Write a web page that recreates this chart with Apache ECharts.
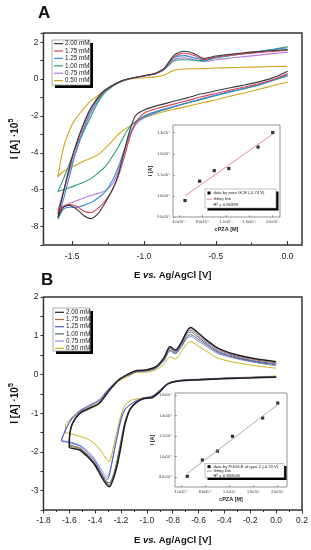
<!DOCTYPE html>
<html><head><meta charset="utf-8">
<script src="https://cdn.jsdelivr.net/npm/echarts@6/dist/echarts.min.js"></script>
<style>html,body{margin:0;padding:0;background:#fff}#c{width:311px;height:550px}</style>
</head><body><div id="c"></div>
<script>
const FONT = 'Liberation Sans, Arial, sans-serif';
const concLabels = ['2.00 mM','1.75 mM','1.25 mM','1.00 mM','0.75 mM','0.50 mM'];
const colorsA = ['#3a3a3a','#e0405a','#3a8cd6','#2e9e72','#b07fe0','#d4a41e'];
const colorsB = ['#1e1e28','#a86a3c','#4c5ccc','#4e6e56','#8c8ce8','#c6b41c'];

// Panel A: upper (positive-current) branch, right to left
const aUpE   = [0.0,-0.1,-0.2,-0.3,-0.4,-0.5,-0.58,-0.65,-0.72,-0.79,-0.86,-0.92,-1.0,-1.08,-1.15,-1.22,-1.28,-1.33,-1.38,-1.43,-1.48,-1.52,-1.56,-1.6];
const aUp200 = [1.6,1.55,1.49,1.43,1.35,1.25,1.12,1.38,1.51,1.3,0.58,0.32,0.18,0.06,-0.08,-0.35,-0.65,-1.1,-1.7,-2.6,-3.7,-4.8,-6.1,-7.5];
const aUp175 = [1.55,1.5,1.44,1.38,1.3,1.2,1.06,1.28,1.4,1.22,0.56,0.31,0.17,0.06,-0.08,-0.35,-0.65,-1.1,-1.75,-2.7,-3.8,-4.9,-6.1,-7.3];
const aUp125 = [1.7,1.6,1.5,1.4,1.3,1.18,1.04,1.15,1.27,1.15,0.55,0.3,0.17,0.06,-0.08,-0.36,-0.7,-1.2,-1.9,-2.9,-4.1,-5.3,-6.5,-7.6];
const aUp100 = [1.75,1.62,1.5,1.38,1.27,1.14,1.0,1.02,1.05,1.0,0.52,0.3,0.17,0.06,-0.1,-0.4,-0.8,-1.4,-2.2,-3.0,-3.8,-4.6,-5.4,-6.1];
const aUp075 = [1.45,1.38,1.3,1.22,1.14,1.05,0.95,1.05,1.15,1.05,0.5,0.28,0.16,0.06,-0.1,-0.38,-0.75,-1.3,-2.0,-3.0,-4.1,-5.0,-6.1,-7.1];
const aUp050 = [0.7,0.68,0.66,0.64,0.62,0.6,0.57,0.56,0.55,0.48,0.22,0.12,0.07,0.02,-0.12,-0.35,-0.65,-0.95,-1.25,-1.7,-2.2,-2.8,-3.7,-5.3];
// Panel A: lower branch, left to right
const aLoE   = [-1.6,-1.56,-1.52,-1.47,-1.42,-1.37,-1.32,-1.27,-1.22,-1.18,-1.14,-1.1,-1.06,-1.0,-0.9,-0.8,-0.7,-0.6,-0.5,-0.4,-0.3,-0.2,-0.1,0.0];
const aLo200 = [-7.5,-6.95,-6.85,-7.05,-7.4,-7.57,-7.3,-6.7,-6.0,-5.2,-4.0,-2.8,-2.0,-1.68,-1.42,-1.22,-1.02,-0.8,-0.63,-0.47,-0.32,-0.15,0.08,0.43];
const aLo175 = [-7.3,-6.9,-6.8,-6.9,-7.15,-7.25,-7.0,-6.6,-6.0,-5.3,-4.3,-3.2,-2.4,-1.85,-1.57,-1.37,-1.17,-0.96,-0.78,-0.6,-0.43,-0.25,-0.02,0.3];
const aLo125 = [-7.6,-7.05,-6.95,-6.95,-6.85,-6.7,-6.45,-6.1,-5.5,-4.8,-3.9,-3.0,-2.4,-2.0,-1.72,-1.5,-1.28,-1.07,-0.87,-0.68,-0.5,-0.3,-0.05,0.25];
const aLo100 = [-6.1,-6.0,-5.9,-5.75,-5.6,-5.4,-5.1,-4.75,-4.2,-3.7,-3.1,-2.6,-2.3,-2.05,-1.75,-1.52,-1.3,-1.1,-0.9,-0.7,-0.52,-0.32,-0.07,0.2];
const aLo075 = [-7.1,-6.9,-6.75,-6.6,-6.45,-6.32,-6.2,-6.05,-5.7,-5.0,-4.0,-3.1,-2.5,-2.1,-1.78,-1.53,-1.3,-1.08,-0.88,-0.68,-0.5,-0.3,-0.05,0.15];
const aLo050 = [-5.3,-5.0,-4.85,-4.65,-4.45,-4.3,-4.1,-3.75,-3.35,-3.0,-2.75,-2.55,-2.35,-2.1,-1.85,-1.65,-1.48,-1.3,-1.12,-0.93,-0.75,-0.55,-0.35,-0.16];

// Panel B: upper branch, right to left
const bUpE   = [0.0,-0.15,-0.3,-0.45,-0.55,-0.62,-0.66,-0.69,-0.73,-0.78,-0.82,-0.87,-0.93,-1.0,-1.08,-1.15,-1.22,-1.3,-1.37,-1.45,-1.52,-1.58,-1.6,-1.63,-1.66];
const bUp200 = [0.33,0.4,0.5,0.68,0.92,1.12,1.21,1.12,0.85,0.63,0.72,0.42,0.2,0.12,0.1,0.0,-0.15,-0.45,-0.75,-0.88,-1.0,-1.3,-1.75,null,null];
const bUp175 = [0.3,0.37,0.47,0.64,0.87,1.06,1.15,1.07,0.82,0.6,0.69,0.4,0.19,0.11,0.09,-0.01,-0.16,-0.46,-0.75,-0.88,-1.0,-1.3,-1.7,null,null];
const bUp125 = [0.27,0.34,0.44,0.6,0.83,1.01,1.1,1.03,0.8,0.58,0.67,0.38,0.18,0.1,0.08,-0.02,-0.14,-0.4,-0.68,-0.82,-0.95,-1.15,-1.25,-1.45,-1.72];
const bUp100 = [0.25,0.32,0.42,0.57,0.79,0.95,1.03,0.97,0.75,0.55,0.63,0.36,0.17,0.1,0.08,-0.02,-0.16,-0.46,-0.76,-0.9,-1.02,-1.3,-1.7,null,null];
const bUp075 = [0.22,0.3,0.4,0.54,0.75,0.9,0.98,0.93,0.72,0.53,0.6,0.34,0.16,0.09,0.07,-0.03,-0.13,-0.38,-0.65,-0.8,-0.93,-1.12,-1.22,-1.42,-1.7];
const bUp050 = [0.16,0.22,0.3,0.42,0.62,0.77,0.85,0.8,0.62,0.4,0.46,0.26,0.12,0.06,0.05,-0.06,-0.18,-0.42,-0.72,-0.85,-0.97,-1.1,-1.18,-1.3,null];
// Panel B: lower branch, left to right
const bLoE   = [-1.66,-1.63,-1.6,-1.52,-1.45,-1.4,-1.35,-1.31,-1.29,-1.26,-1.23,-1.2,-1.17,-1.13,-1.08,-1.02,-0.96,-0.9,-0.84,-0.75,-0.6,-0.4,-0.2,0.0];
const bLo200 = [null,null,-1.88,-1.95,-2.15,-2.35,-2.65,-2.85,-2.9,-2.7,-2.35,-1.85,-1.3,-0.9,-0.72,-0.62,-0.6,-0.45,-0.25,-0.17,-0.14,-0.11,-0.09,-0.07];
const bLo175 = [null,null,-1.83,-1.92,-2.12,-2.32,-2.6,-2.8,-2.85,-2.65,-2.3,-1.8,-1.27,-0.9,-0.7,-0.61,-0.59,-0.44,-0.24,-0.16,-0.13,-0.1,-0.08,-0.06];
const bLo125 = [-1.72,-1.74,-1.76,-1.85,-2.05,-2.25,-2.55,-2.72,-2.6,-2.1,-1.6,-1.15,-0.9,-0.78,-0.68,-0.6,-0.57,-0.42,-0.24,-0.16,-0.13,-0.1,-0.08,-0.06];
const bLo100 = [null,null,-1.8,-1.9,-2.1,-2.3,-2.6,-2.78,-2.8,-2.6,-2.2,-1.7,-1.22,-0.88,-0.7,-0.61,-0.58,-0.43,-0.24,-0.16,-0.13,-0.1,-0.08,-0.06];
const bLo075 = [-1.7,-1.72,-1.74,-1.82,-2.0,-2.2,-2.48,-2.65,-2.55,-2.1,-1.62,-1.18,-0.92,-0.78,-0.67,-0.6,-0.56,-0.41,-0.23,-0.15,-0.12,-0.09,-0.07,-0.05];
const bLo050 = [null,-1.5,-1.52,-1.6,-1.68,-1.8,-2.0,-2.2,-2.25,-1.9,-1.45,-1.05,-0.8,-0.68,-0.63,-0.6,-0.56,-0.4,-0.25,-0.17,-0.14,-0.1,-0.07,-0.04];

// Insets
const insetConc = [0.0005,0.00075,0.001,0.00125,0.00175,0.002];
const insetAI = [0.978e-5,1.070e-5,1.120e-5,1.130e-5,1.232e-5,1.301e-5];
const fitAX = [0.0005,0.002];
const fitAI = [1.0e-5,1.293e-5];
const insetBI = [8.1e-6,9.68e-6,10.55e-6,11.98e-6,13.76e-6,15.21e-6];
const fitBX = [0.0005,0.002];
const fitBI = [8.39e-6,15.05e-6];

// Tick labels
const aXTicks = [-1.5,-1.0,-0.5,0.0];
const aXMinor = [-1.25,-0.75,-0.25];
const insetXTicks = [0.0004,0.0008,0.0012,0.0016,0.002];
const insetXLabels = ['4.0x10⁻⁴','8.0x10⁻⁴','1.2x10⁻³','1.6x10⁻³','2.0x10⁻³'];
const insetAYTicks = [9e-6,1.0e-5,1.1e-5,1.2e-5,1.3e-5];
const insetAYLabels = ['9.0x10⁻⁶','1.0x10⁻⁵','1.1x10⁻⁵','1.2x10⁻⁵','1.3x10⁻⁵'];
const insetBYTicks = [8e-6,1.0e-5,1.2e-5,1.4e-5,1.6e-5];
const insetBYLabels = ['8.0x10⁻⁶','1.0x10⁻⁵','1.2x10⁻⁵','1.4x10⁻⁵','1.6x10⁻⁵'];

const aUp = [aUp200,aUp175,aUp125,aUp100,aUp075,aUp050];
const aLo = [aLo200,aLo175,aLo125,aLo100,aLo075,aLo050];
const bUp = [bUp200,bUp175,bUp125,bUp100,bUp075,bUp050];
const bLo = [bLo200,bLo175,bLo125,bLo100,bLo075,bLo050];

function loop(upE, upI, loE, loI) {
  const d = [];
  upE.forEach((e,i)=>{ if (upI[i] !== null) d.push([e, upI[i]]); });
  loE.forEach((e,i)=>{ if (loI[i] !== null) d.push([e, loI[i]]); });
  return d;
}
function lookup(ticks, labels) {
  return v => { for (let i=0;i<ticks.length;i++){ if (Math.abs(v-ticks[i]) < Math.abs(ticks[i])*1e-6) return labels[i]; } return ''; };
}

const series = [];
for (let k=5;k>=0;k--) {
  series.push({type:'line', name:concLabels[k], xAxisIndex:0, yAxisIndex:0,
    data: loop(aUpE, aUp[k], aLoE, aLo[k]), showSymbol:false, smooth:0.25,
    lineStyle:{width:1.1, color:colorsA[k]}, itemStyle:{color:colorsA[k]}});
}
for (let k=5;k>=0;k--) {
  series.push({type:'line', name:concLabels[k], xAxisIndex:3, yAxisIndex:2,
    data: loop(bUpE, bUp[k], bLoE, bLo[k]), showSymbol:false, smooth:0.25,
    lineStyle:{width:k===0?1.5:1, color:colorsB[k]}, itemStyle:{color:colorsB[k]}});
}
series.push({type:'line', xAxisIndex:2, yAxisIndex:1, data: fitAX.map((x,i)=>[x, fitAI[i]]),
  showSymbol:false, lineStyle:{color:'#e07080', width:0.8}});
series.push({type:'scatter', xAxisIndex:2, yAxisIndex:1, data: insetConc.map((c,i)=>[c, insetAI[i]]),
  symbol:'rect', symbolSize:3.2, itemStyle:{color:'#000'}});
series.push({type:'line', xAxisIndex:4, yAxisIndex:3, data: fitBX.map((x,i)=>[x, fitBI[i]]),
  showSymbol:false, lineStyle:{color:'#a89484', width:0.8}});
series.push({type:'scatter', xAxisIndex:4, yAxisIndex:3, data: insetConc.map((c,i)=>[c, insetBI[i]]),
  symbol:'rect', symbolSize:3.2, itemStyle:{color:'#000'}});

const noLine = {show:false, onZero:false};
const tickLbl = {fontSize:8.5, color:'#222', fontFamily:FONT};
const xTitle = {
  name:'{b|E }{i|vs.}{b| Ag/AgCl [V]}', nameLocation:'middle', nameGap:25,
  nameTextStyle:{rich:{b:{fontSize:9.5,fontWeight:'bold',fontFamily:FONT,color:'#111'},
                       i:{fontSize:9.5,fontWeight:'bold',fontStyle:'italic',fontFamily:FONT,color:'#111'}}}
};
const yTitle = {
  name:'{b|I [A] ·10}{s|5}', nameLocation:'middle', nameGap:14,
  nameTextStyle:{rich:{b:{fontSize:10,fontWeight:'bold',fontFamily:FONT,color:'#111'},
                       s:{fontSize:7,fontWeight:'bold',fontFamily:FONT,color:'#111',padding:[0,0,7,0]}}}
};
const insetLbl = {fontSize:3.6, color:'#333', fontFamily:FONT};
const insetName = {fontSize:5.5, fontWeight:'bold', fontFamily:FONT, color:'#222'};

function legendMain(x, y, w, h, row0, rowH, colors) {
  const els = [
    {type:'rect', shape:{x:x+3, y:y+3, width:w, height:h}, style:{fill:'#000'}},
    {type:'rect', shape:{x:x, y:y, width:w, height:h}, style:{fill:'#fff', stroke:'#999', lineWidth:0.8}}
  ];
  concLabels.forEach((lab,i)=>{
    const ry = row0 + i*rowH;
    els.push({type:'line', shape:{x1:x+2, y1:ry, x2:x+11, y2:ry}, style:{stroke:colors[i], lineWidth:1.2}});
    els.push({type:'text', x:x+13, y:ry, style:{text:lab, font:'6.3px '+FONT, fill:'#222', verticalAlign:'middle'}});
  });
  return els;
}
function legendInset(x, y, w, h, rows, texts, lineColor) {
  const els = [
    {type:'rect', shape:{x:x+2.5, y:y+2.5, width:w, height:h}, style:{fill:'#000'}},
    {type:'rect', shape:{x:x, y:y, width:w, height:h}, style:{fill:'#fff', stroke:'#999', lineWidth:0.6}},
    {type:'rect', shape:{x:x+2.5, y:rows[0]-1.5, width:3, height:3}, style:{fill:'#000'}},
    {type:'line', shape:{x1:x+1.5, y1:rows[1], x2:x+7, y2:rows[1]}, style:{stroke:lineColor, lineWidth:0.8}}
  ];
  texts.forEach((t,i)=>{
    els.push({type:'text', x:x+8.5, y:rows[i], style:{text:t, font:'4.2px '+FONT, fill:'#222', verticalAlign:'middle'}});
  });
  return els;
}

const graphic = [
  {type:'text', x:38, y:5, style:{text:'A', font:'bold 17px '+FONT, fill:'#111'}},
  {type:'text', x:41, y:272, style:{text:'B', font:'bold 17px '+FONT, fill:'#111'}},
  ...legendMain(52, 40, 38, 45, 43.6, 7.4, colorsA),
  ...legendMain(53, 308, 37, 43, 312.3, 7.2, colorsB),
  ...legendInset(205, 189, 71, 19, [193, 199.3, 205.3], ['data by pure GCE (-0.74 V)','fitting line','R² = 0.96399'], '#e07080'),
  ...legendInset(205, 463.5, 79, 14, [466.6, 471.2, 475.8], ['data by PGGCE of type 2 (-0.74 V)','fitting line','R² = 0.983545'], '#a89484')
];

const option = {
  animation:false,
  backgroundColor:'#fff',
  grid:[
    {left:37, top:33, width:265, height:212, show:true, borderColor:'#333', borderWidth:1.5, backgroundColor:'transparent'},
    {left:173, top:125, width:107, height:92, show:true, borderColor:'#666', borderWidth:0.7, backgroundColor:'#fff'},
    {left:37, top:297, width:265, height:213, show:true, borderColor:'#333', borderWidth:1.5, backgroundColor:'transparent'},
    {left:175, top:393, width:112, height:94, show:true, borderColor:'#666', borderWidth:0.7, backgroundColor:'#fff'}
  ],
  xAxis:[
    Object.assign({gridIndex:0, type:'value', position:'bottom', min:-1.7, max:0.1, axisLine:noLine, splitLine:{show:false},
      axisTick:{customValues:aXTicks, inside:true, length:4, lineStyle:{color:'#333'}},
      axisLabel:Object.assign({customValues:aXTicks, margin:7, formatter:v=>v.toFixed(1)}, tickLbl)}, xTitle),
    {gridIndex:0, type:'value', position:'bottom', min:-1.7, max:0.1, axisLine:noLine, splitLine:{show:false},
      axisTick:{customValues:aXMinor, inside:true, length:2.5, lineStyle:{color:'#333'}}, axisLabel:{show:false}},
    {gridIndex:1, type:'value', position:'bottom', min:0.000295, max:0.002125, axisLine:noLine, splitLine:{show:false},
      axisTick:{customValues:insetXTicks, inside:true, length:1.8, lineStyle:{color:'#555', width:0.6}},
      axisLabel:Object.assign({customValues:insetXTicks, margin:3, formatter:lookup(insetXTicks, insetXLabels)}, insetLbl),
      name:'cPZA [M]', nameLocation:'middle', nameGap:9, nameTextStyle:insetName},
    Object.assign({gridIndex:2, type:'value', position:'bottom', min:-1.8, max:0.2, interval:0.2, axisLine:noLine, splitLine:{show:false},
      axisTick:{inside:false, length:3.5, lineStyle:{color:'#333'}},
      minorTick:{show:true, splitNumber:2, length:2, lineStyle:{color:'#333'}},
      axisLabel:Object.assign({margin:6, formatter:v=>v.toFixed(1)}, tickLbl)}, xTitle),
    {gridIndex:3, type:'value', position:'bottom', min:0.000296, max:0.002154, axisLine:noLine, splitLine:{show:false},
      axisTick:{customValues:insetXTicks, inside:true, length:1.8, lineStyle:{color:'#555', width:0.6}},
      axisLabel:Object.assign({customValues:insetXTicks, margin:3, formatter:lookup(insetXTicks, insetXLabels)}, insetLbl),
      name:'cPZA [M]', nameLocation:'middle', nameGap:9, nameTextStyle:insetName}
  ],
  yAxis:[
    Object.assign({gridIndex:0, type:'value', position:'left', min:-9, max:2.5, interval:1, axisLine:noLine, splitLine:{show:false},
      axisTick:{inside:false, length:3, lineStyle:{color:'#333'}},
      axisLabel:Object.assign({margin:5, formatter:v=>(Number.isInteger(v) && v%2===0) ? String(v) : ''}, tickLbl)}, yTitle),
    {gridIndex:1, type:'value', position:'left', min:9e-6, max:1.3367e-5, axisLine:noLine, splitLine:{show:false},
      axisTick:{customValues:insetAYTicks, inside:true, length:1.8, lineStyle:{color:'#555', width:0.6}},
      axisLabel:Object.assign({customValues:insetAYTicks, margin:2.5, formatter:lookup(insetAYTicks, insetAYLabels)}, insetLbl),
      name:'I [A]', nameLocation:'middle', nameGap:17, nameTextStyle:insetName},
    Object.assign({gridIndex:2, type:'value', position:'left', min:-3.5, max:2, interval:0.5, axisLine:noLine, splitLine:{show:false},
      axisTick:{inside:false, length:3, lineStyle:{color:'#333'}},
      axisLabel:Object.assign({margin:5, formatter:v=>Number.isInteger(v) ? String(v) : ''}, tickLbl)}, yTitle),
    {gridIndex:3, type:'value', position:'left', min:7.06e-6, max:1.619e-5, axisLine:noLine, splitLine:{show:false},
      axisTick:{customValues:insetBYTicks, inside:true, length:1.8, lineStyle:{color:'#555', width:0.6}},
      axisLabel:Object.assign({customValues:insetBYTicks, margin:2.5, formatter:lookup(insetBYTicks, insetBYLabels)}, insetLbl),
      name:'I [A]', nameLocation:'middle', nameGap:19, nameTextStyle:insetName}
  ],
  series: series,
  graphic: graphic
};
const chart = echarts.init(document.getElementById('c'), null, {renderer:'canvas'});
chart.setOption(option);
</script></body></html>
